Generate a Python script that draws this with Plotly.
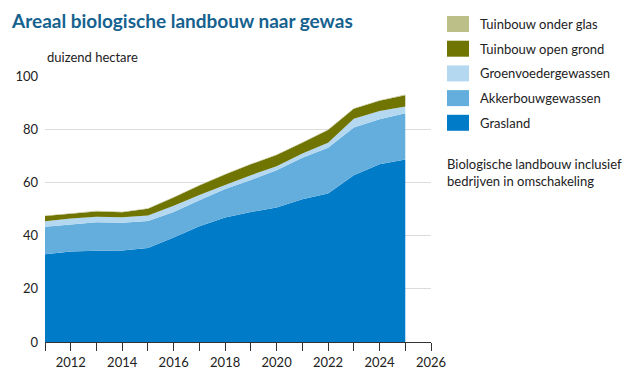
import plotly.graph_objects as go

years = list(range(2011, 2026))
grasland = [33.0, 34.0, 34.3, 34.4, 35.3, 39.3, 43.5, 46.8, 48.9, 50.6, 53.7, 55.8, 62.7, 66.8, 68.6]
akkerbouw_top = [43.3, 44.2, 45.0, 44.8, 45.5, 48.9, 53.3, 57.5, 60.9, 64.6, 69.3, 73.0, 80.6, 83.7, 86.0]
groenvoeder_top = [45.4, 46.4, 47.1, 46.9, 47.6, 51.2, 55.3, 59.0, 62.7, 66.1, 70.9, 74.9, 83.9, 86.8, 88.5]
open_grond_top = [47.4, 48.2, 49.1, 48.8, 50.1, 54.3, 58.8, 63.0, 66.8, 70.3, 74.9, 79.7, 87.7, 90.7, 92.8]
onder_glas = [0.2] * 15

akkerbouw = [round(a - b, 2) for a, b in zip(akkerbouw_top, grasland)]
groenvoeder = [round(a - b, 2) for a, b in zip(groenvoeder_top, akkerbouw_top)]
open_grond = [round(a - b, 2) for a, b in zip(open_grond_top, groenvoeder_top)]

tick_years = list(range(2011, 2027))
tick_text = [str(y) if y % 2 == 0 else "" for y in tick_years]
y_ticks = [0, 20, 40, 60, 80, 100]

series = [
    ("Grasland", grasland, "#007bc7"),
    ("Akkerbouwgewassen", akkerbouw, "#64aedd"),
    ("Groenvoedergewassen", groenvoeder, "#b3d8f0"),
    ("Tuinbouw open grond", open_grond, "#707400"),
    ("Tuinbouw onder glas", onder_glas, "#bcbf87"),
]

fig = go.Figure()
for name, vals, col in series:
    fig.add_trace(go.Scatter(
        x=years, y=vals, name=name, stackgroup="one", mode="none",
        fillcolor=col, line=dict(width=0), hoverinfo="x+y+name",
    ))

FONT = "Lato"
L, T, B = 45, 76, 35
PW, PH = 386, 266


def px(x):
    return (x - L) / PW


def py(y):
    return (377 - B - y) / PH


fig.update_layout(
    width=626, height=377,
    margin=dict(l=L, r=626 - L - PW, t=T, b=B),
    paper_bgcolor="white", plot_bgcolor="white",
    showlegend=False,
    font=dict(family=FONT, size=13, color="#222222"),
    xaxis=dict(
        range=[2011, 2026], tickmode="array", tickvals=tick_years, ticktext=tick_text,
        ticks="outside", ticklen=8, tickcolor="#333333", tickwidth=1,
        showline=True, linecolor="#333333", linewidth=1, showgrid=False, zeroline=False,
        tickfont=dict(size=13, family=FONT), fixedrange=True, automargin=False,
    ),
    yaxis=dict(
        range=[0, 100], tickmode="array", tickvals=y_ticks,
        showgrid=True, gridcolor="#dcdcdc", gridwidth=1, zeroline=False, showline=False,
        ticks="", tickfont=dict(size=13, family=FONT), ticklabelstandoff=6, fixedrange=True,
        automargin=False,
    ),
)

fig.add_annotation(
    text="<b>Areaal biologische landbouw naar gewas</b>", xref="paper", yref="paper",
    x=px(9), y=py(20), xanchor="left", yanchor="middle", showarrow=False,
    font=dict(size=19, color="#16628f", family=FONT),
)
fig.add_annotation(
    text="duizend hectare", xref="paper", yref="paper",
    x=px(45), y=py(57), xanchor="left", yanchor="middle", showarrow=False,
    font=dict(size=13, family=FONT, color="#222222"),
)

# manual legend (top to bottom)
legend_items = list(reversed(series))
for i, (name, vals, col) in enumerate(legend_items):
    yc = 24 + i * 24.7
    fig.add_shape(type="rect", xref="paper", yref="paper", x0=px(447), x1=px(469),
                  y0=py(yc + 8), y1=py(yc - 8), fillcolor=col, line=dict(width=0))
    fig.add_annotation(text=name, xref="paper", yref="paper", x=px(478),
                       y=py(yc), xanchor="left", yanchor="middle",
                       showarrow=False, font=dict(size=13, family=FONT, color="#222222"))

fig.add_annotation(
    text="Biologische landbouw inclusief<br>bedrijven in omschakeling", xref="paper", yref="paper",
    x=px(445), y=py(172), xanchor="left", yanchor="middle", align="left",
    showarrow=False, font=dict(size=13, family=FONT, color="#222222"),
)

fig.write_html(
    "out.html",
    config={"displayModeBar": False},
    post_script="document.body.style.margin='0';document.body.style.padding='0';",
)
